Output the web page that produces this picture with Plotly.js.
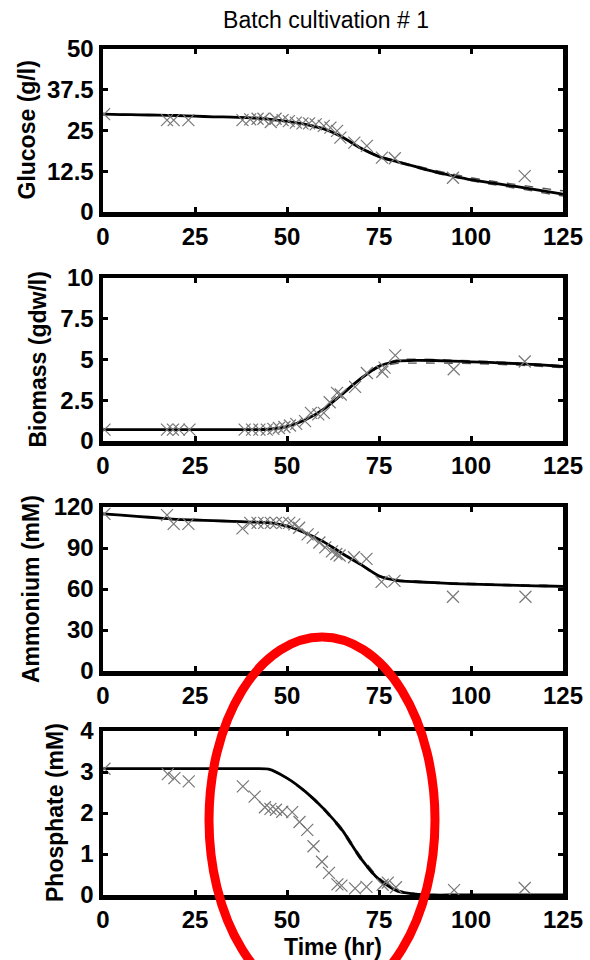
<!DOCTYPE html>
<html>
<head>
<meta charset="utf-8">
<script src="https://cdn.plot.ly/plotly-3.0.1.min.js"></script>
<style>html,body{margin:0;padding:0;background:#fff;}#chart{width:590px;height:960px;}</style>
</head>
<body>
<div id="chart"></div>
<script>
// ---- data ----
var tModel = [0,5,10,15,20,25,30,35,40,45,50,55,60,65,70,75,80,85,90,95,100,105,110,115,120,125];

var glucoseFit   = [30.0,29.9,29.8,29.7,29.6,29.4,29.2,29.1,28.9,28.5,27.8,26.9,25.5,23.0,19.6,17.0,15.4,13.9,12.4,11.1,9.9,9.0,8.2,7.3,6.4,5.5];
var glucoseUpper = [30.0,29.9,29.8,29.7,29.6,29.4,29.2,29.1,28.9,28.5,27.8,26.9,25.5,23.1,19.8,17.2,15.6,14.2,12.8,11.6,10.5,9.6,8.8,8.0,7.2,6.5];
var glucoseLower = [30.0,29.9,29.8,29.7,29.6,29.4,29.2,29.1,28.9,28.5,27.8,26.9,25.4,22.9,19.5,16.8,15.2,13.6,12.1,10.8,9.6,8.6,7.7,6.8,5.8,4.9];
var glucoseT = [0.3,17.4,19.2,23.2,37.9,40.0,42.0,43.6,45.6,46.9,48.8,50.5,52.4,54.2,56.0,57.8,60.0,61.8,63.6,64.5,68.3,71.7,75.8,79.3,95.1,114.6];
var glucoseV = [30.0,28.2,28.2,28.2,28.2,28.4,28.6,28.6,27.6,28.6,28.2,27.9,27.4,27.2,27.2,26.9,26.4,25.9,24.9,22.8,21.3,20.3,16.7,16.5,10.5,11.0];

var biomassFit   = [0.70,0.70,0.70,0.70,0.70,0.70,0.70,0.70,0.70,0.72,0.88,1.30,1.95,2.88,3.82,4.59,4.90,4.95,4.94,4.90,4.86,4.82,4.77,4.72,4.65,4.57];
var biomassUpper = [0.70,0.70,0.70,0.70,0.70,0.70,0.70,0.70,0.70,0.72,0.88,1.31,1.97,2.90,3.85,4.63,4.98,5.02,5.00,4.96,4.92,4.88,4.83,4.77,4.70,4.62];
var biomassLower = [0.70,0.70,0.70,0.70,0.70,0.70,0.70,0.70,0.70,0.72,0.87,1.28,1.93,2.85,3.78,4.52,4.76,4.78,4.78,4.77,4.75,4.72,4.68,4.63,4.57,4.50];
var biomassT = [0.4,17.4,19.0,20.6,23.5,38.5,40.5,42.5,44.5,46.3,47.8,49.3,50.8,52.5,54.9,56.5,58.5,60.0,61.6,63.6,64.6,68.5,71.7,75.9,76.5,79.4,95.3,114.6];
var biomassV = [0.70,0.70,0.70,0.70,0.70,0.70,0.70,0.70,0.70,0.74,0.80,0.86,0.95,1.05,1.22,1.73,1.63,1.73,2.38,2.95,2.85,3.32,4.17,4.25,4.50,5.25,4.40,4.88];

var ammoniumFit   = [115,114,113,112,111,110.5,110,109.5,109,108.5,106,101,94.5,86,78,69.5,66.2,65.3,64.6,64.0,63.6,63.2,62.8,62.5,62.2,61.9];
var ammoniumUpper = [115,114,113,112,111,110.5,110,109.5,109,108.6,106.2,101.3,94.9,86.4,78.4,70.0,66.7,65.8,65.1,64.5,64.1,63.7,63.3,63.0,62.7,62.4];
var ammoniumLower = [115,114,113,112,111,110.5,110,109.5,109,108.4,105.8,100.7,94.1,85.6,77.6,69.0,65.8,64.9,64.2,63.6,63.2,62.8,62.4,62.1,61.8,61.5];
var ammoniumT = [0.4,17.4,19.2,23.2,37.9,40.0,42.0,43.8,45.6,47.0,48.8,50.6,52.0,53.3,55.6,57.0,58.8,60.4,62.2,63.4,64.3,68.2,71.6,75.7,79.2,95.1,114.8];
var ammoniumV = [115,114,107.7,107.7,104.4,108.4,108.4,108.4,108.4,108.4,108.4,108.4,107.3,104.8,100,97.6,94,90.5,87.5,85.6,84.5,83.2,82,65.2,65.9,54.3,54.3];

var phosphateFit   = [3.08,3.08,3.08,3.08,3.08,3.08,3.08,3.08,3.08,3.07,2.85,2.52,2.10,1.58,0.90,0.38,0.10,0.02,0,0,0,0,0,0,0,0];
var phosphateUpper = [3.08,3.08,3.08,3.08,3.08,3.08,3.08,3.08,3.08,3.07,2.86,2.54,2.13,1.62,0.95,0.42,0.12,0.03,0,0,0,0,0,0,0,0];
var phosphateLower = [3.08,3.08,3.08,3.08,3.08,3.08,3.08,3.08,3.08,3.07,2.84,2.50,2.07,1.54,0.86,0.34,0.08,0.01,0,0,0,0,0,0,0,0];
var phosphateT = [0.4,17.6,19.4,23.3,38.0,41.2,44.0,45.5,47.0,48.7,51.4,53.4,55.5,57.2,59.5,61.4,63.7,64.8,68.5,71.6,76.0,77.4,79.6,95.4,114.6];
var phosphateV = [3.08,2.95,2.85,2.77,2.65,2.40,2.14,2.10,2.08,2.03,2.02,1.78,1.59,1.19,0.81,0.54,0.26,0.23,0.16,0.20,0.25,0.30,0.19,0.12,0.17];

var xTicks = [0,25,50,75,100,125];
var yTitles = ['Glucose (g/l)','Biomass (gdw/l)','Ammonium (mM)','Phosphate (mM)'];
var yRanges = [[0,50],[0,10],[0,120],[0,4]];
var yTicks = [[0,12.5,25,37.5,50],[0,2.5,5,7.5,10],[0,30,60,90,120],[0,1,2,3,4]];
var yTickText = [['0','12.5','25','37.5','50'],['0','2.5','5','7.5','10'],['0','30','60','90','120'],['0','1','2','3','4']];

// ---- build ----
var panels = [
  [glucoseFit, glucoseUpper, glucoseLower, glucoseT, glucoseV],
  [biomassFit, biomassUpper, biomassLower, biomassT, biomassV],
  [ammoniumFit, ammoniumUpper, ammoniumLower, ammoniumT, ammoniumV],
  [phosphateFit, phosphateUpper, phosphateLower, phosphateT, phosphateV]
];
var H = 960, W = 590;
var FONT = 'Arial, Liberation Sans, sans-serif';
var pxTop = [49, 278, 507, 731], pxBot = [212, 441, 671, 895];
var titleX = [26, 37, 31, 55];
var traces = [];
var annotations = [];
var layout = {
  width: W, height: H,
  margin: {l:0, r:0, t:0, b:0},
  paper_bgcolor: '#fff', plot_bgcolor: '#fff',
  showlegend: false,
  font: {family: FONT, color: '#000'},
  title: {text: 'Batch cultivation # 1', font: {family: FONT, size: 23, color: '#000'},
          xref: 'paper', x: 326/W, xanchor: 'center', yref: 'container', y: 1 - 20/H, yanchor: 'middle'},
  shapes: [{type: 'circle', xref: 'paper', yref: 'paper',
            x0: 209/W, x1: 435/W, y0: 1 - 1003/H, y1: 1 - 637/H,
            line: {color: '#ff0000', width: 9}, layer: 'above'}]
};
var tickFont = {family: FONT, size: 24, color: '#000', weight: 'bold'};
for (var i = 0; i < 4; i++) {
  var xa = i === 0 ? 'x' : 'x' + (i+1);
  var ya = i === 0 ? 'y' : 'y' + (i+1);
  var p = panels[i];
  traces.push({x: tModel, y: p[1], xaxis: xa, yaxis: ya, mode: 'lines', line: {color: '#555', width: 1.4, dash: 'dash', shape: 'spline', smoothing: 0.6}, hoverinfo: 'skip'});
  traces.push({x: tModel, y: p[2], xaxis: xa, yaxis: ya, mode: 'lines', line: {color: '#555', width: 1.4, dash: 'dash', shape: 'spline', smoothing: 0.6}, hoverinfo: 'skip'});
  traces.push({x: tModel, y: p[0], xaxis: xa, yaxis: ya, mode: 'lines', line: {color: '#000', width: 2.8, shape: 'spline', smoothing: 0.6}});
  traces.push({x: p[3], y: p[4], xaxis: xa, yaxis: ya, mode: 'markers',
               marker: {symbol: 'x-thin-open', size: 12, color: '#777', line: {color: '#777', width: 1.2}}});
  var xKey = i === 0 ? 'xaxis' : 'xaxis' + (i+1);
  var yKey = i === 0 ? 'yaxis' : 'yaxis' + (i+1);
  layout[xKey] = {
    domain: [103/W, 563/W], anchor: ya, range: [0,125], tickmode: 'array', tickvals: xTicks,
    ticks: 'inside', ticklen: 5, tickwidth: 3, tickcolor: '#000',
    showline: true, linewidth: 4.5, linecolor: '#000', mirror: 'ticks',
    showgrid: false, zeroline: false, tickfont: tickFont, fixedrange: true
  };
  layout[yKey] = {
    domain: [1 - pxBot[i]/H, 1 - pxTop[i]/H], anchor: xa, range: yRanges[i], tickmode: 'array',
    tickvals: yTicks[i], ticktext: yTickText[i],
    ticks: 'inside', ticklen: 5, tickwidth: 3, tickcolor: '#000',
    showline: true, linewidth: 4.5, linecolor: '#000', mirror: 'ticks',
    showgrid: false, zeroline: false, tickfont: tickFont, fixedrange: true
  };
  annotations.push({text: yTitles[i], xref: 'paper', yref: 'paper',
    x: titleX[i]/W, y: 1 - (pxTop[i] + pxBot[i]) / 2 / H, xanchor: 'center', yanchor: 'middle',
    textangle: -90, showarrow: false, font: {family: FONT, size: 23, color: '#000', weight: 'bold'}});
}
annotations.push({text: 'Time (hr)', xref: 'paper', yref: 'paper', x: 333/W, y: 1 - 947/H,
  xanchor: 'center', yanchor: 'middle', showarrow: false, font: {family: FONT, size: 23, color: '#000', weight: 'bold'}});
layout.annotations = annotations;

Plotly.newPlot('chart', traces, layout, {staticPlot: true, displayModeBar: false});
</script>
</body>
</html>
